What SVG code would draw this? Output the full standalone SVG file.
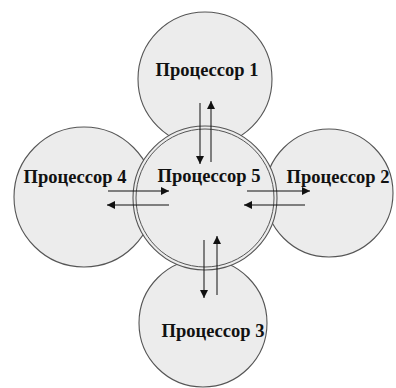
<svg xmlns="http://www.w3.org/2000/svg" width="396" height="388" viewBox="0 0 396 388">
<defs>
<style>
.c{fill:#ececec;stroke:#555;stroke-width:1.1}
.c2{fill:none;stroke:#555;stroke-width:1}
.t{font-family:"Liberation Serif","Times New Roman",serif;font-weight:bold;font-size:18.5px;fill:#111}
.a{stroke:#111;stroke-width:1;fill:none;marker-end:url(#ah)}
</style>
<marker id="ah" viewBox="0 0 10 10" refX="10" refY="5" markerWidth="10" markerHeight="8" markerUnits="userSpaceOnUse" orient="auto">
<path d="M0,0 L10,5 L0,10 z" fill="#111"/>
</marker>
</defs>
<rect width="396" height="388" fill="#fff"/>
<g id="p1"><circle class="c" cx="205" cy="79" r="67"/><text class="t" x="207" y="76" text-anchor="middle">Процессор 1</text></g>
<g id="p4"><circle class="c" cx="84" cy="197" r="70"/><text class="t" x="75" y="183" text-anchor="middle">Процессор 4</text></g>
<g id="p2"><circle class="c" cx="329" cy="193" r="64"/><text class="t" x="338" y="183" text-anchor="middle">Процессор 2</text></g>
<g id="p3"><circle class="c" cx="203" cy="323" r="64"/><text class="t" x="213" y="337" text-anchor="middle">Процессор 3</text></g>
<g id="p5"><circle class="c" cx="205" cy="198" r="72"/><circle class="c2" cx="205" cy="198" r="69"/><text class="t" x="209" y="182" text-anchor="middle">Процессор 5</text></g>
<g id="connectors">
<line class="a" x1="200" y1="103" x2="200" y2="164"/>
<line class="a" x1="211" y1="162" x2="211" y2="101"/>
<line class="a" x1="108" y1="191" x2="169" y2="191"/>
<line class="a" x1="169" y1="205" x2="107" y2="205"/>
<line class="a" x1="247" y1="191" x2="310" y2="191"/>
<line class="a" x1="305" y1="205" x2="244" y2="205"/>
<line class="a" x1="204" y1="240" x2="204" y2="298"/>
<line class="a" x1="217" y1="295" x2="217" y2="236"/>
</g>
</svg>
